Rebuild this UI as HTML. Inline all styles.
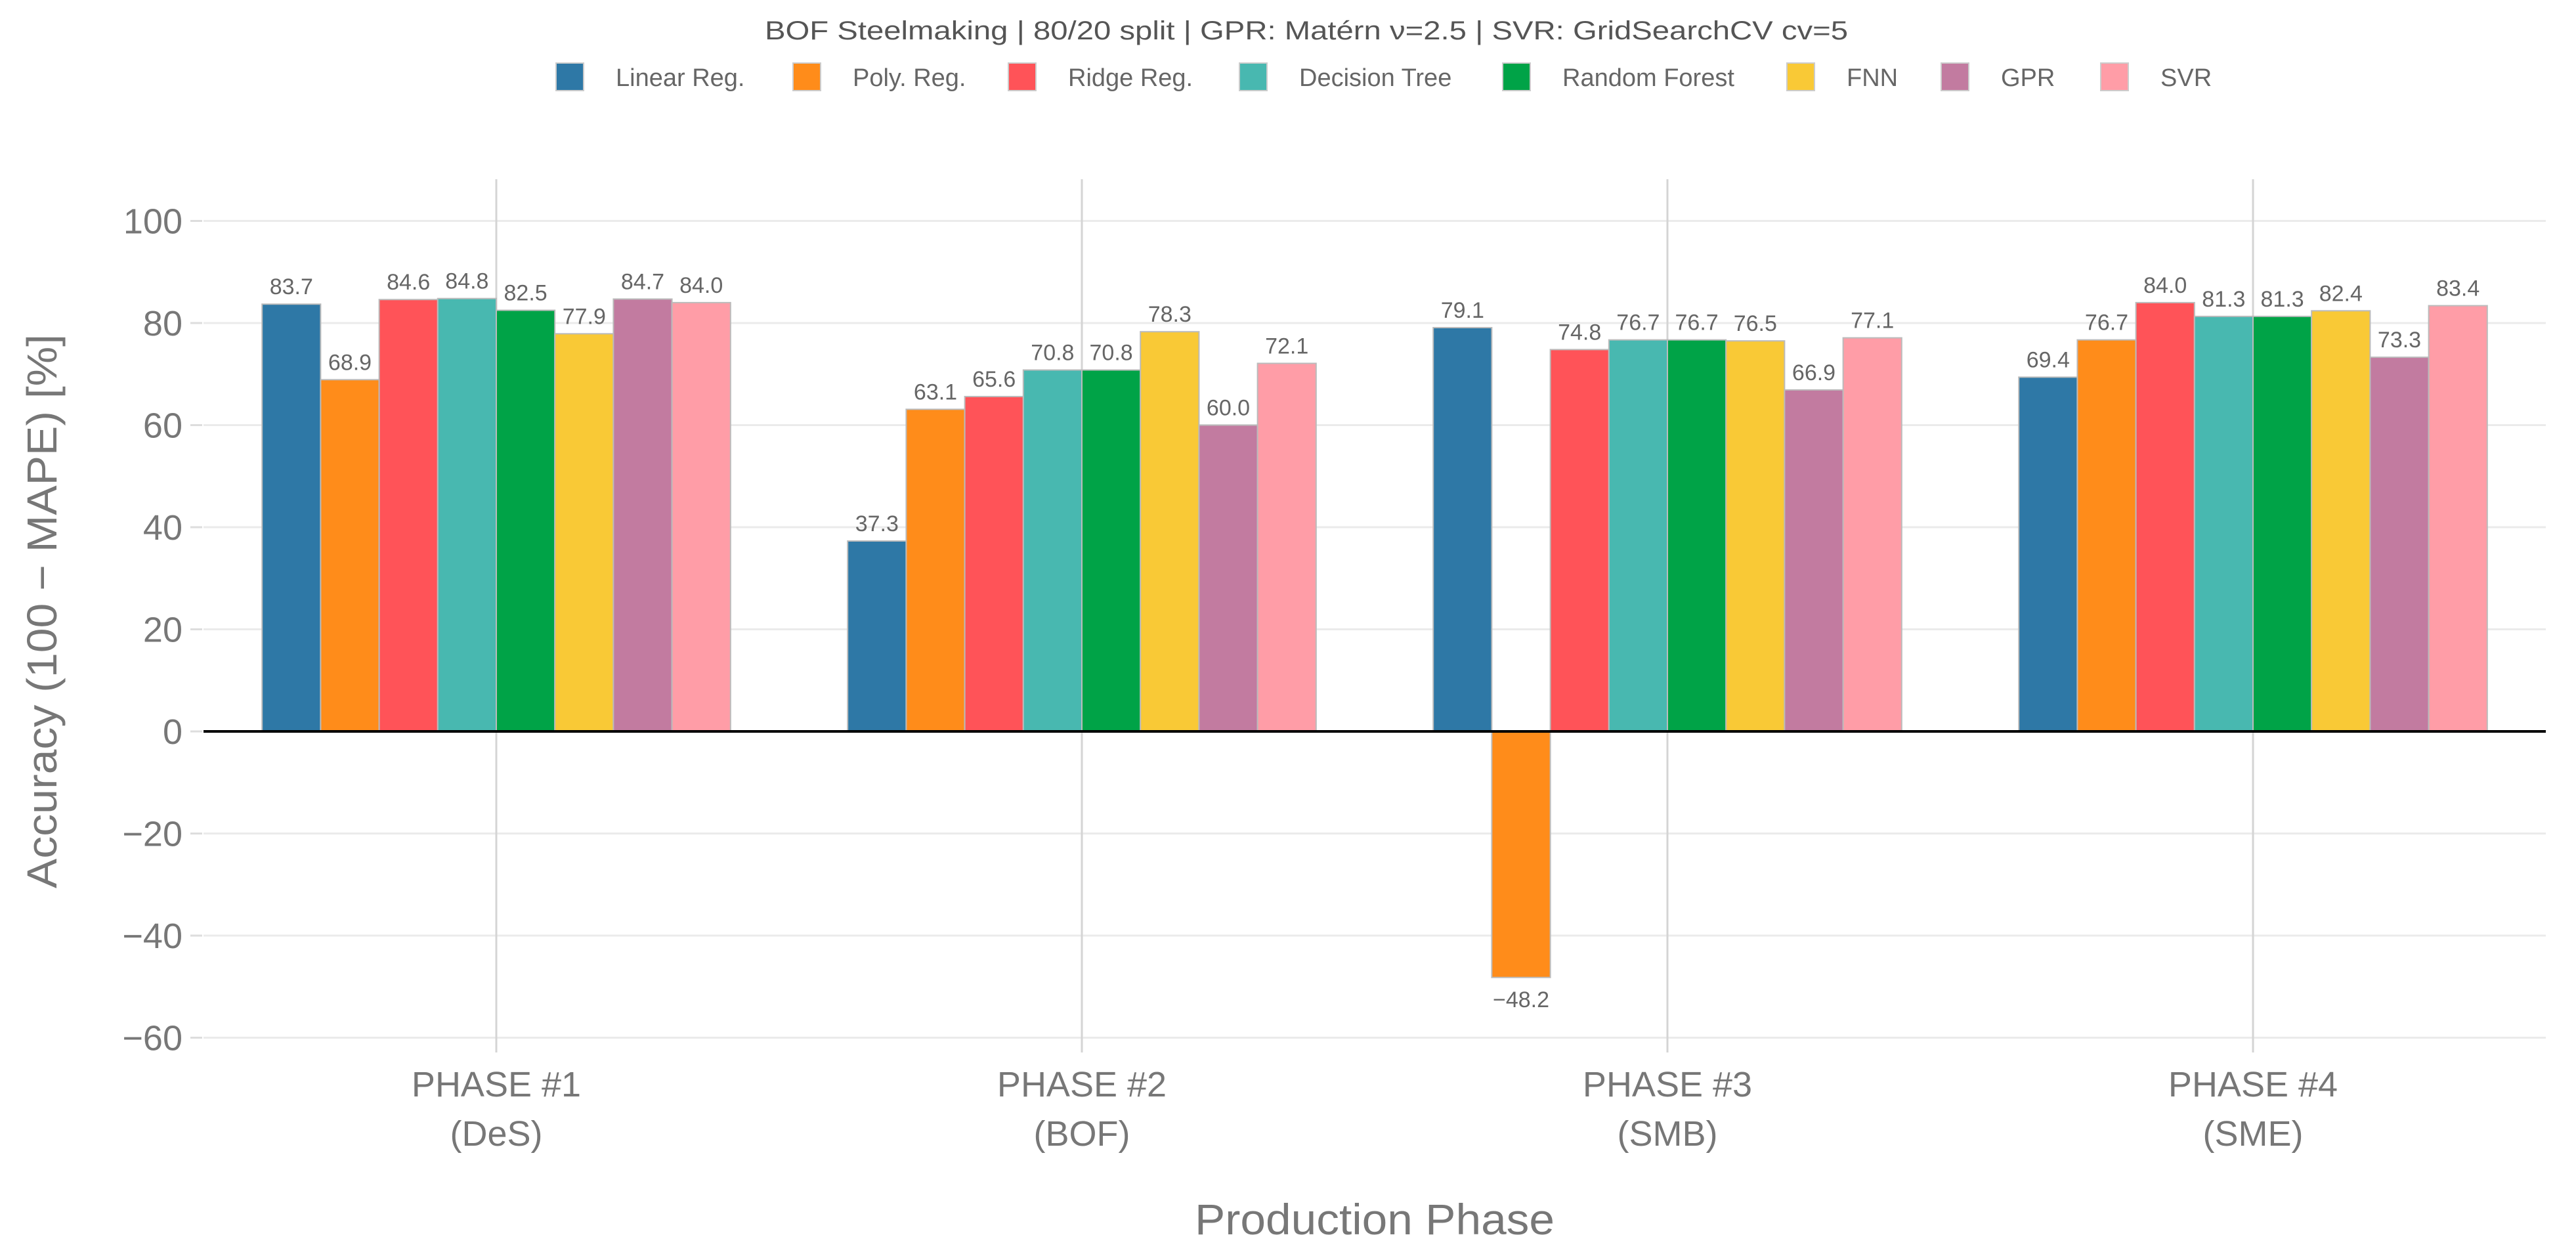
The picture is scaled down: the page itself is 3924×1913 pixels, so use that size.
<!DOCTYPE html>
<html><head><meta charset="utf-8"><style>
html,body{margin:0;padding:0;background:#fff;}
svg{display:block;font-family:"Liberation Sans",sans-serif;}
</style></head><body>
<svg id="chart" width="3924" height="1913" viewBox="0 0 3924 1913" xmlns="http://www.w3.org/2000/svg">
<text x="1990" y="60" text-anchor="middle" font-size="40" fill="#555" textLength="1650" lengthAdjust="spacingAndGlyphs">BOF Steelmaking | 80/20 split | GPR: Matérn ν=2.5 | SVR: GridSearchCV cv=5</text>
<g id="legend"></g>
<g id="grid"></g>
<g id="bars"></g>
<g id="labels"></g>
<g id="axes"></g>
<text transform="translate(86,931) rotate(-90)" text-anchor="middle" font-size="64" fill="#777" textLength="844" lengthAdjust="spacingAndGlyphs">Accuracy (100 − MAPE) [%]</text>
<text x="2094" y="1880" text-anchor="middle" font-size="66" fill="#777" textLength="548" lengthAdjust="spacingAndGlyphs">Production Phase</text>
</svg>
<script>
const categories = ["PHASE #1", "PHASE #2", "PHASE #3", "PHASE #4"];
const subLabels = ["(DeS)", "(BOF)", "(SMB)", "(SME)"];
const models = ["Linear Reg.", "Poly. Reg.", "Ridge Reg.", "Decision Tree", "Random Forest", "FNN", "GPR", "SVR"];
const colors = ["#2E78A6", "#FF8C1A", "#FF5358", "#48B8B0", "#00A347", "#F9C936", "#C27BA0", "#FF9DA7"];
const linearReg = [83.7, 37.3, 79.1, 69.4];
const polyReg = [68.9, 63.1, -48.2, 76.7];
const ridgeReg = [84.6, 65.6, 74.8, 84.0];
const decisionTree = [84.8, 70.8, 76.7, 81.3];
const randomForest = [82.5, 70.8, 76.7, 81.3];
const fnn = [77.9, 78.3, 76.5, 82.4];
const gpr = [84.7, 60.0, 66.9, 73.3];
const svr = [84.0, 72.1, 77.1, 83.4];
const yTicks = [100, 80, 60, 40, 20, 0, -20, -40, -60];
const legendX = [868, 1229, 1557, 1909, 2310, 2743, 2978, 3221];

const series = [linearReg, polyReg, ridgeReg, decisionTree, randomForest, fnn, gpr, svr];
const NS = "http://www.w3.org/2000/svg";
const plotL = 310, plotR = 3878, plotT = 273, plotB = 1603;
const y0 = 1114, pxPerUnit = 7.775;
const yScale = v => y0 - v * pxPerUnit;
const catW = (plotR - plotL) / categories.length;
const xCenter = i => plotL + catW * (i + 0.5);
const groupW = catW * 0.8, barW = groupW / models.length;
function mk(tag, attrs, parent, text) {
  const e = document.createElementNS(NS, tag);
  for (const k in attrs) e.setAttribute(k, attrs[k]);
  if (text !== undefined) e.textContent = text;
  parent.appendChild(e);
  return e;
}
const grid = document.getElementById('grid');
const axes = document.getElementById('axes');
yTicks.forEach(t => {
  const y = yScale(t);
  if (t !== 0) {
    const gl = mk('line', {x1: plotL, x2: plotR, y1: y, y2: y, stroke: '#ebebeb', 'stroke-width': 3}, grid);
    
    
  }
  const tk = mk('line', {x1: 290, x2: 308, y1: y, y2: y, stroke: '#ddd', 'stroke-width': 3}, axes);
  
  
  const lab = mk('text', {x: 278, y: y + 19, 'text-anchor': 'end', 'font-size': 54, fill: '#777'}, axes, t < 0 ? '−' + Math.abs(t) : String(t));
  
  
});
categories.forEach((c, i) => {
  const x = xCenter(i);
  const vl = mk('line', {x1: x, x2: x, y1: plotT, y2: plotB, stroke: '#d4d4d4', 'stroke-width': 3}, grid);
  
  
  const t1 = mk('text', {x: x, y: 1670, 'text-anchor': 'middle', 'font-size': 54, fill: '#777'}, axes, c);
  
  
  const t2 = mk('text', {x: x, y: 1745, 'text-anchor': 'middle', 'font-size': 54, fill: '#777'}, axes, subLabels[i]);
  
  
});
const bars = document.getElementById('bars');
const labels = document.getElementById('labels');
series.forEach((vals, s) => {
  vals.forEach((v, i) => {
    const x = xCenter(i) - groupW / 2 + s * barW;
    const yt = Math.min(yScale(v), y0), h = Math.abs(yScale(v) - y0);
    const r = mk('rect', {x: x, y: yt, width: barW, height: h, fill: colors[s], stroke: '#bbb', 'stroke-width': 2}, bars);
    
    
    const ly = v >= 0 ? yScale(v) - 15 : yScale(v) + 45;
    const t = mk('text', {x: x + barW / 2, y: ly, 'text-anchor': 'middle', 'font-size': 34, fill: '#666'}, labels, (v < 0 ? '−' : '') + Math.abs(v).toFixed(1));
    
    
  });
});
const zl = mk('line', {x1: plotL, x2: plotR, y1: y0, y2: y0, stroke: '#000', 'stroke-width': 4}, axes);


const legend = document.getElementById('legend');
models.forEach((m, k) => {
  const g = mk('g', {}, legend);
  
  
  mk('rect', {x: legendX[k] - 21, y: 96, width: 42, height: 42, fill: colors[k], stroke: '#ccc', 'stroke-width': 2}, g);
  mk('text', {x: legendX[k] + 70, y: 131, 'font-size': 38, fill: '#666'}, g, m);
});
</script>
</body></html>
